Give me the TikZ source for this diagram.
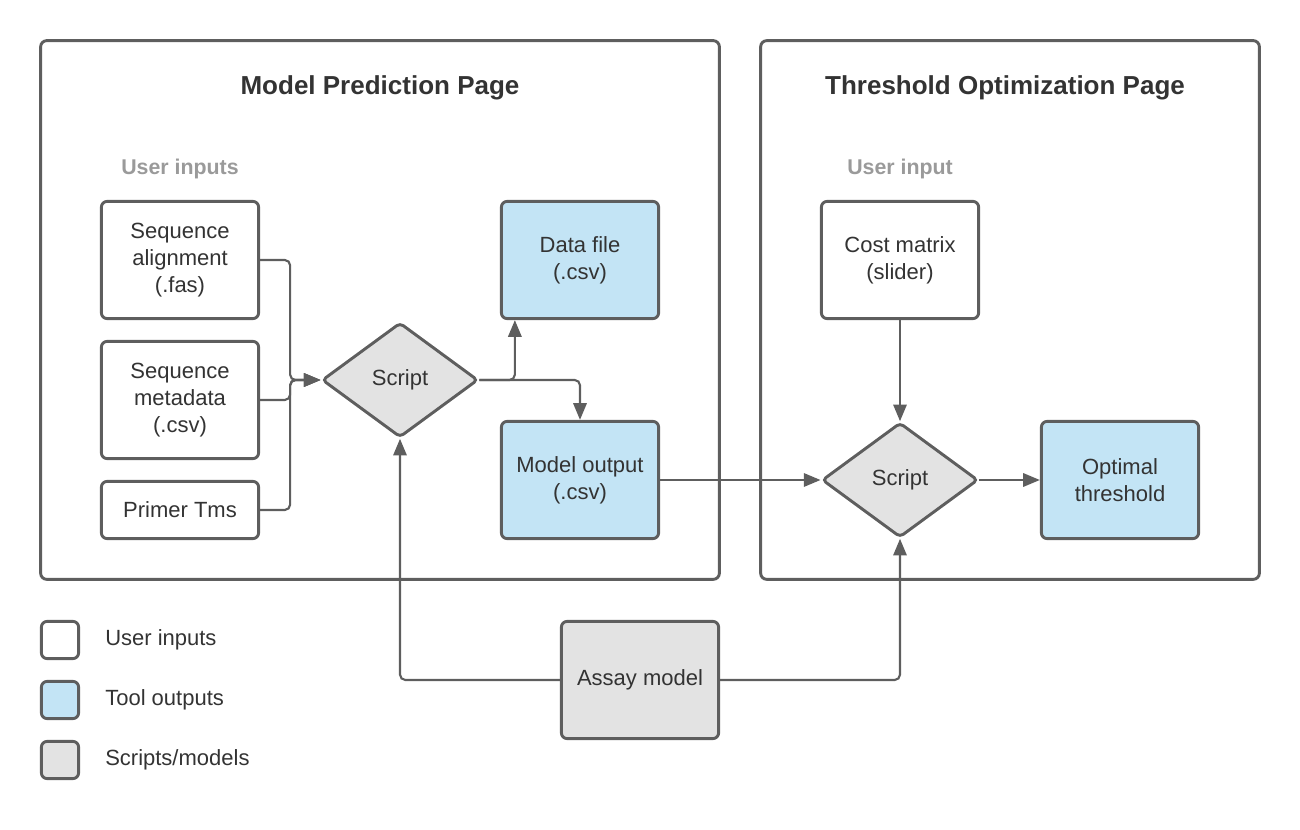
\documentclass[tikz,border=0pt]{standalone}
\usepackage{fontspec}
\setmainfont{Liberation Sans}
\usetikzlibrary{shapes.geometric,arrows.meta,calc}
\definecolor{edge}{HTML}{5E5E5E}
\definecolor{txt}{HTML}{333333}
\definecolor{lbl}{HTML}{9A9A9A}
\definecolor{blu}{HTML}{C3E4F5}
\definecolor{gry}{HTML}{E3E3E3}
\tikzset{
  panel/.style={draw=edge,line width=2.2pt,rounded corners=4.5pt,fill=none},
  box/.style={draw=edge,line width=2.2pt,rounded corners=4.5pt,fill=white,
    minimum width=118pt,minimum height=88pt,inner sep=2pt,align=center,
    text=txt,font=\fontsize{16.5}{20}\selectfont},
  shortbox/.style={box,minimum height=43pt},
  outbox/.style={box,fill=blu},
  modelbox/.style={box,fill=gry},
  decision/.style={shape=diamond,draw=edge,line width=2.2pt,rounded corners=3pt,fill=gry,
    minimum width=117pt,minimum height=86pt,inner sep=0pt,text=txt,
    font=\fontsize{16.5}{20}\selectfont},
  legbox/.style={draw=edge,line width=2.2pt,rounded corners=4.5pt,minimum width=28pt,minimum height=28pt,inner sep=0pt},
  legtxt/.style={anchor=west,text=txt,font=\fontsize{16.5}{20}\selectfont,inner sep=0pt},
  title/.style={text=txt,font=\fontsize{19.5}{24}\selectfont\bfseries},
  sublabel/.style={text=lbl,font=\fontsize{16}{20}\selectfont\bfseries},
  conn/.style={draw=edge,line width=1.6pt,rounded corners=4pt,-{Triangle[length=12.5pt,width=10pt]}},
}
\begin{document}
\begin{tikzpicture}[x=0.75pt,y=-0.75pt]
\useasboundingbox (0,0) rectangle (1300,830);
% panels
\node[panel,minimum width=509pt,minimum height=404pt] (pleft) at (380,310) {};
\node[panel,minimum width=374pt,minimum height=404pt] (pright) at (1010,310) {};
\node[title] (t1) at (380,88) {Model Prediction Page};
\node[title] (t2) at (1005,88) {Threshold Optimization Page};
\node[sublabel] (u1) at (180,169) {User inputs};
\node[sublabel] (u2) at (900,169) {User input};
% nodes
\node[box] (sa) at (180,260) {Sequence\\alignment\\(.fas)};
\node[box] (sm) at (180,400) {Sequence\\metadata\\(.csv)};
\node[shortbox] (pt) at (180,510) {Primer Tms};
\node[decision] (s1) at (400,380) {Script};
\node[outbox] (df) at (580,260) {Data file\\(.csv)};
\node[outbox] (mo) at (580,480) {Model output\\(.csv)};
\node[box] (cm) at (900,260) {Cost matrix\\(slider)};
\node[decision] (s2) at (900,480) {Script};
\node[outbox] (ot) at (1120,480) {Optimal\\threshold};
\node[modelbox] (am) at (640,680) {Assay model};
% legend
\node[legbox,fill=white] (l1) at (60,640) {};
\node[legbox,fill=blu] (l2) at (60,700) {};
\node[legbox,fill=gry] (l3) at (60,760) {};
\node[legtxt] (lt1) at (105,640) {User inputs};
\node[legtxt] (lt2) at (105,700) {Tool outputs};
\node[legtxt] (lt3) at (105,760) {Scripts/models};
% connectors
\draw[conn] (sa.east) -- ($(sa.east)+(30,0)$) |- (s1.west);
\draw[conn] (sm.east) -- ($(sm.east)+(30,0)$) |- (s1.west);
\draw[conn] (pt.east) -- ($(pt.east)+(30,0)$) |- (s1.west);
\draw[conn] (s1.east) -| ($(df.south west)+(15,0)$);
\draw[conn] (s1.east) -| (mo.north);
\draw[conn] (mo.east) -- (s2.west);
\draw[conn] (cm.south) -- (s2.north);
\draw[conn] (s2.east) -- (ot.west);
\draw[conn] (am.west) -| (s1.south);
\draw[conn] (am.east) -| (s2.south);
\end{tikzpicture}
\end{document}
